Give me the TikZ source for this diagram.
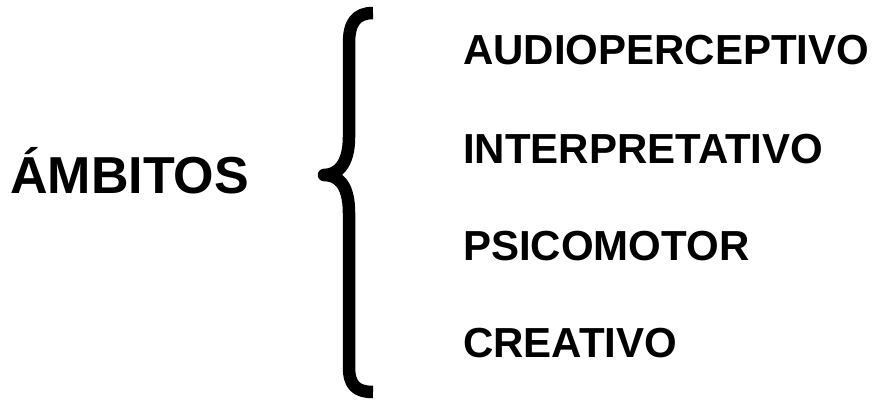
\documentclass[tikz,border=0pt]{standalone}
\usepackage{fontspec}
\setmainfont{Liberation Sans}
\begin{document}
\begin{tikzpicture}[x=1pt,y=1pt,
  item/.style={anchor=base west,inner sep=0pt,font=\fontsize{42}{42}\selectfont\bfseries},
  title/.style={anchor=base west,inner sep=0pt,font=\fontsize{52}{52}\selectfont\bfseries},
  bracestroke/.style={line width=12.5pt,line join=round}]
\useasboundingbox[fill=white] (0,0) rectangle (877,405);
\node[title] (amb) at (10,212) {ÁMBITOS};
\node[item] (a1) at (463,340) {AUDIOPERCEPTIVO};
\node[item] (a2) at (463,242) {INTERPRETATIVO};
\node[item] (a3) at (463,145) {PSICOMOTOR};
\node[item] (a4) at (463,48) {CREATIVO};
\draw[bracestroke] (373,392) .. controls (356,392) and (349,382) .. (349,362)
  -- (349,268) .. controls (349,240) and (337,230) .. (324,230)
  .. controls (337,230) and (349,222) .. (349,192)
  -- (349,38) .. controls (349,20) and (356,13) .. (373,13);
\end{tikzpicture}
\end{document}
